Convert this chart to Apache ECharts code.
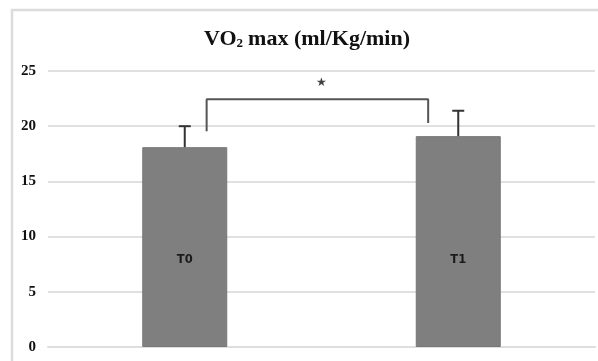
<!DOCTYPE html>
<html><head><meta charset="utf-8">
<script src="https://cdn.jsdelivr.net/npm/echarts@6/dist/echarts.min.js"></script>
<style>html,body{margin:0;padding:0;background:#fff}#c{width:598px;height:361px}</style>
</head><body><div id="c"></div>
<script>
var categories = ['T0', 'T1'];
var means = [18.1, 19.1];
var upperErr = [20.0, 21.4];
var yTicks = [0, 5, 10, 15, 20, 25];
var bracketX = [0.08, 0.08, 0.89, 0.89];
var bracketY = [19.55, 22.45, 22.45, 20.3];
var starPos = [0.5, 23.9];

var chart = echarts.init(document.getElementById('c'));
var errData = categories.map(function (c, i) { return [i, means[i], upperErr[i]]; });
var bracketData = bracketX.map(function (x, i) { return [x, bracketY[i]]; });

chart.setOption({
  animation: false,
  title: {
    text: '{a|VO}{s|2}{a|max (ml/Kg/min)}',
    left: 199, top: 23,
    textStyle: {
      rich: {
        a: { fontFamily: 'Liberation Serif', fontWeight: 'bold', fontSize: 22, color: '#111' },
        s: { fontFamily: 'Liberation Serif', fontWeight: 'bold', fontSize: 13, color: '#111', padding: [9, 5, 0, 0] }
      }
    }
  },
  graphic: [{
    type: 'polyline', silent: true,
    shape: { points: [[12, 370], [12, 10], [610, 10]] },
    style: { stroke: '#dcdcdc', lineWidth: 2.5, fill: null }
  }],
  grid: { left: 48, right: 3, top: 71, bottom: 14 },
  xAxis: [{
    type: 'category', data: categories,
    axisLine: { show: true, lineStyle: { color: '#dedede', width: 2 } },
    axisTick: { show: false }, axisLabel: { show: false }
  }, {
    type: 'value', min: -0.5, max: 1.5, show: false
  }],
  yAxis: {
    type: 'value', min: yTicks[0], max: yTicks[yTicks.length - 1], interval: 5,
    axisLine: { show: false }, axisTick: { show: false },
    splitLine: { lineStyle: { color: '#e0e0e0', width: 2 } },
    axisLabel: { fontFamily: 'Liberation Serif', fontWeight: 'bold', fontSize: 15, color: '#111', margin: 12 }
  },
  series: [{
    type: 'bar', data: means, barWidth: 85,
    itemStyle: { color: '#7f7f7f', borderColor: '#777', borderWidth: 1 },
    label: { show: true, position: 'insideBottom', distance: 81, formatter: '{b}',
      fontFamily: 'DejaVu Sans', fontWeight: 'bold', fontSize: 11.5, color: '#1a1a1a' }
  }, {
    type: 'custom', data: errData, z: 3,
    renderItem: function (params, api) {
      var base = api.coord([api.value(0), api.value(1)]);
      var top = api.coord([api.value(0), api.value(2)]);
      var hw = 6;
      return { type: 'group', children: [
        { type: 'line', shape: { x1: top[0], y1: top[1], x2: base[0], y2: base[1] }, style: { stroke: '#333', lineWidth: 2 } },
        { type: 'line', shape: { x1: top[0] - hw, y1: top[1], x2: top[0] + hw, y2: top[1] }, style: { stroke: '#333', lineWidth: 2 } }
      ]};
    }
  }, {
    type: 'line', xAxisIndex: 1, data: bracketData, symbol: 'none',
    lineStyle: { color: '#555', width: 2 }
  }, {
    type: 'scatter', xAxisIndex: 1, data: [starPos], symbolSize: 0,
    label: { show: true, position: 'inside', formatter: '\u2605', fontFamily: 'DejaVu Sans', fontSize: 12, color: '#111' }
  }]
});
</script></body></html>
